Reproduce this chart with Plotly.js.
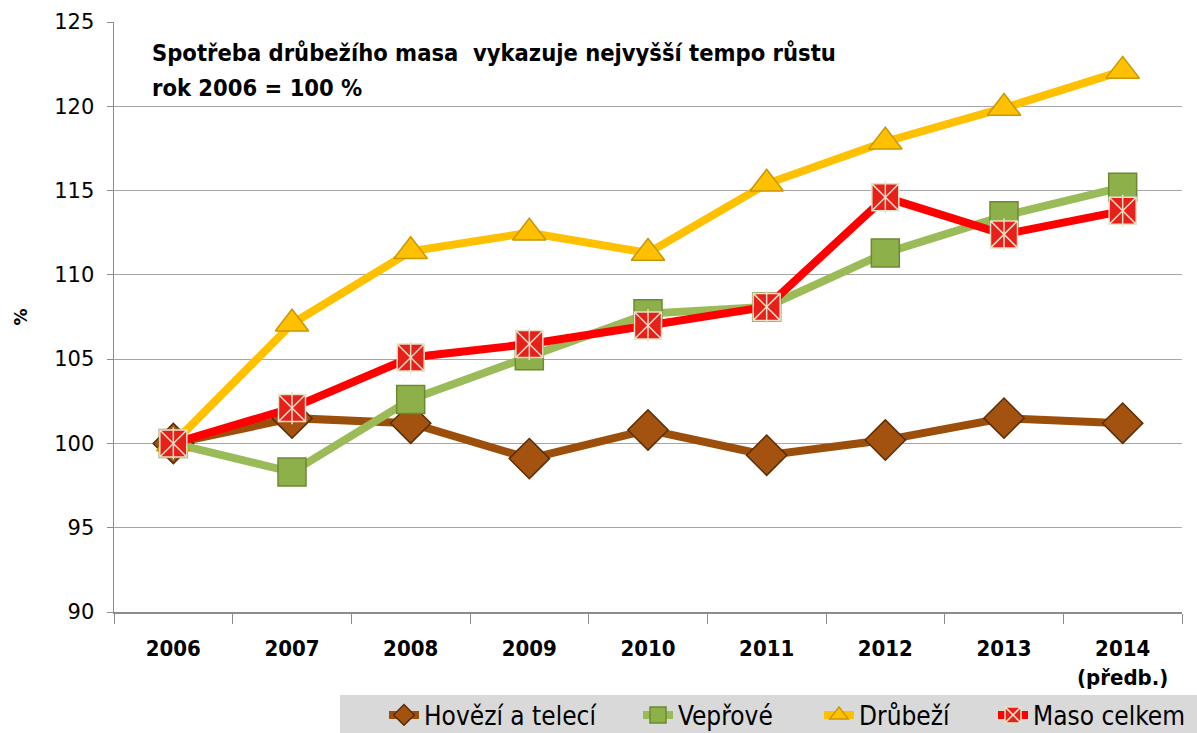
<!DOCTYPE html>
<html>
<head>
<meta charset="utf-8">
<script src="https://cdn.plot.ly/plotly-3.0.1.min.js"></script>
<style>html,body{margin:0;padding:0;background:#fff;}#chart{width:1197px;height:733px;}</style>
</head>
<body>
<div id="chart"></div>
<script>
const years = ["2006", "2007", "2008", "2009", "2010", "2011", "2012", "2013", "2014"];
const yearLabels = ["2006", "2007", "2008", "2009", "2010", "2011", "2012", "2013", "2014<br>(předb.)"];
const hovezi = [100, 101.5, 101.2, 99.1, 100.8, 99.3, 100.2, 101.5, 101.2];
const veprove = [100, 98.3, 102.6, 105.2, 107.7, 108.1, 111.3, 113.5, 115.2];
const drubezi = [100, 107.1, 111.4, 112.5, 111.3, 115.4, 117.9, 119.9, 122.1];
const masoCelkem = [100, 102.1, 105.1, 105.9, 107.0, 108.1, 114.6, 112.4, 113.8];
const seriesNames = ["Hovězí a telecí", "Vepřové", "Drůbeží", "Maso celkem"];
const titleLines = ["Spotřeba drůbežího masa  vykazuje nejvyšší tempo růstu", "rok 2006 = 100 %"];

const condFont = 'DejaVu Sans Condensed, DejaVu Sans, sans-serif';
const W = 1197, H = 733, ML = 114, MR = 15, MT = 22, MB = 121;
const PW = W - ML - MR, PH = H - MT - MB;
const px2x = p => (p - ML) / PW;
const px2y = p => (H - MB - p) / PH;

const mk = (y, name, legendId, lineColor, symbol, fill, outline, size) => ({
  x: years, y: y, name: name, type: 'scatter', mode: 'lines+markers', legend: legendId,
  line: {color: lineColor, width: 8},
  marker: {symbol: symbol, size: size, color: fill, line: {color: outline, width: 1.5}},
  cliponaxis: false
});

const traces = [
  mk(hovezi, seriesNames[0], 'legend', '#9c4f0b', 'diamond', '#a3530f', '#5a2d05', 31),
  mk(veprove, seriesNames[1], 'legend2', '#9bbb59', 'square', '#8db04a', '#6b8a30', 28),
  mk(drubezi, seriesNames[2], 'legend3', '#ffc000', 'triangle-up', '#ffc000', '#c99700', 29),
  mk(masoCelkem, seriesNames[3], 'legend4', '#ff0000', 'square-x', '#e8201a', '#e8e0c8', 27),
  {x: years, y: masoCelkem, type: 'scatter', mode: 'markers', showlegend: false, hoverinfo: 'skip',
   marker: {symbol: 'line-ns', size: 23, line: {color: '#e8e0c8', width: 1.5}}, cliponaxis: false}
];

const legendAt = textStartPx => ({
  orientation: 'h', xref: 'container', yref: 'container',
  x: (textStartPx - 39) / W, xanchor: 'left', y: (H - 715) / H, yanchor: 'middle',
  bgcolor: 'rgba(0,0,0,0)', borderwidth: 0,
  font: {family: condFont, size: 26, color: '#000'},
  itemwidth: 30
});

const layout = {
  width: W, height: H,
  margin: {l: ML, r: MR, t: MT, b: MB},
  paper_bgcolor: '#ffffff', plot_bgcolor: '#ffffff',
  showlegend: true,
  legend: legendAt(423),
  legend2: legendAt(677),
  legend3: legendAt(858),
  legend4: legendAt(1032),
  xaxis: {
    type: 'category', tickvals: years, ticktext: yearLabels,
    range: [-0.5, 8.5], autorange: false,
    showgrid: false, showline: true, linecolor: '#8c8c8c', linewidth: 1.5,
    ticks: 'outside', tickson: 'boundaries', ticklen: 10, tickcolor: '#8c8c8c',
    tickfont: {family: condFont, size: 22, color: '#000', weight: 'bold'},
    ticklabelstandoff: 16,
    zeroline: false
  },
  yaxis: {
    range: [90, 125], dtick: 5, tick0: 90,
    showgrid: true, gridcolor: '#a6a6a6', gridwidth: 1,
    showline: true, linecolor: '#8c8c8c', linewidth: 1.5,
    ticks: 'outside', ticklen: 6, tickcolor: '#8c8c8c',
    tickfont: {family: 'DejaVu Sans, Verdana, sans-serif', size: 21, color: '#000'},
    ticklabelstandoff: 8,
    zeroline: false,
    title: {text: '%', font: {family: 'DejaVu Sans, sans-serif', size: 17, color: '#000', weight: 'bold'}, standoff: 22}
  },
  shapes: [{
    type: 'rect', xref: 'paper', yref: 'paper', layer: 'below',
    x0: px2x(340), x1: px2x(1197), y0: px2y(695), y1: px2y(733),
    fillcolor: '#d9d9d9', line: {width: 0}
  }],
  annotations: titleLines.map((t, i) => ({
    xref: 'paper', yref: 'paper', x: px2x(150), y: px2y(i === 0 ? 53 : 88),
    xanchor: 'left', yanchor: 'middle', align: 'left', showarrow: false,
    text: t,
    font: {family: condFont, size: 23.5, color: '#000', weight: 'bold'}
  }))
};

Plotly.newPlot('chart', traces, layout, {displayModeBar: false, staticPlot: true});
</script>
</body>
</html>
